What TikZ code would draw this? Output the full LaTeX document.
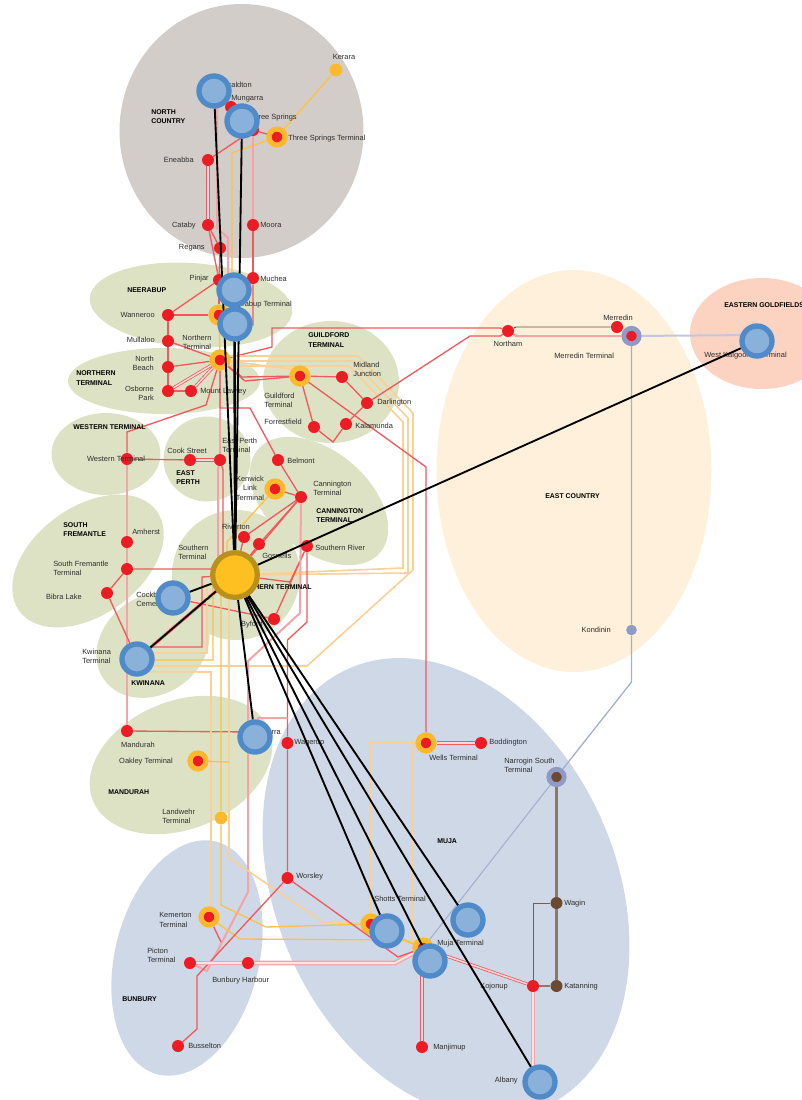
\documentclass[tikz,border=0pt]{standalone}
\usepackage{fontspec}
\setmainfont{Liberation Sans}
\usetikzlibrary{shapes.geometric}
\definecolor{countrygrey}{HTML}{D3CDC9}
\definecolor{metrogreen}{HTML}{DEE2C4}
\definecolor{southblue}{HTML}{CFD8E6}
\definecolor{eastcream}{HTML}{FEF0DA}
\definecolor{goldpeach}{HTML}{FCD3C1}
\definecolor{stopred}{HTML}{ED1C24}
\definecolor{linered}{HTML}{EE5A5F}
\definecolor{linepink}{HTML}{F4A3A6}
\definecolor{ringyellow}{HTML}{FDB92B}
\definecolor{lineyellow}{HTML}{FBC24A}
\definecolor{linepale}{HTML}{F9D096}
\definecolor{linelav}{HTML}{A7AFD0}
\definecolor{ringlav}{HTML}{8F9AC6}
\definecolor{stopbrown}{HTML}{6C4A32}
\definecolor{bluering}{HTML}{4F8AC9}
\definecolor{bluefill}{HTML}{8AB1DA}
\definecolor{hubring}{HTML}{B8901A}
\definecolor{hubfill}{HTML}{FDC020}
\definecolor{tagtext}{HTML}{2E2E2E}
\pgfdeclarelayer{back}
\pgfdeclarelayer{spokes}
\pgfdeclarelayer{top}
\pgfsetlayers{back,main,spokes,top}
\tikzset{
	region/.style n args={3}{ellipse, inner sep=0pt, minimum width=#1*0.75pt, minimum height=#2*0.75pt, rotate=#3},
	redstop/.style={circle, fill=stopred, inner sep=0pt, minimum size=9pt},
	yellowstop/.style={circle, fill=ringyellow, inner sep=0pt, minimum size=9.5pt},
	lavstop/.style={circle, fill=ringlav, inner sep=0pt, minimum size=8pt},
	brownstop/.style={circle, fill=stopbrown, inner sep=0pt, minimum size=9pt},
	termstop/.style={circle, fill=stopred, draw=ringyellow, line width=3.9pt, inner sep=0pt, minimum size=12pt},
	lavterm/.style={circle, fill=#1, draw=ringlav, line width=3.6pt, inner sep=0pt, minimum size=11.5pt},
	bluestop/.style={circle, fill=bluefill, draw=bluering, line width=4pt, inner sep=0pt, minimum size=22.5pt},
	hubstop/.style={circle, fill=hubfill, draw=hubring, line width=3.9pt, inner sep=0pt, minimum size=33.5pt},
	tag/.style={font=\fontsize{5.6}{7}\selectfont, text=tagtext, inner sep=0pt},
	tagl/.style={tag, anchor=west, align=left},
	tagr/.style={tag, anchor=east, align=right},
	tagc/.style={tag, anchor=center, align=center},
	title/.style={font=\fontsize{5.2}{7}\selectfont\bfseries, text=black, inner sep=0pt, anchor=west, align=left},
	redline/.style={draw=linered, line width=1pt},
	pinkline/.style={draw=linepink, line width=1.5pt},
	dblred/.style={draw=linered, line width=0.6pt, double=linepink!40, double distance=1.1pt},
	dblpink/.style={draw=linepink, line width=1pt, double=linepink!30, double distance=1.5pt},
	yelline/.style={draw=lineyellow, line width=1pt},
	paleline/.style={draw=linepale, line width=1.2pt},
	lavline/.style={draw=linelav, line width=1pt},
	brownline/.style={draw=stopbrown!75, line width=1.7pt},
	spoke/.style={draw=black, line width=1.4pt},
}
\begin{document}
\begin{tikzpicture}[x=0.75pt,y=-0.75pt]
	\useasboundingbox (0,0) rectangle (802,1100);
	% regions
	\begin{pgfonlayer}{back}
		\node[region={244}{254}{0}, fill=countrygrey] (northcountry) at (241.5,131) {};
		\node[region={203}{84}{-4}, fill=metrogreen] (neerabupzone) at (191,305) {};
		\node[region={192}{66}{0}, fill=metrogreen] (northernzone) at (164,381) {};
		\node[region={136}{122}{0}, fill=metrogreen] (guildfordzone) at (331,382) {};
		\node[region={109}{82}{0}, fill=metrogreen] (westernzone) at (106,454) {};
		\node[region={87}{85}{0}, fill=metrogreen] (eastperthzone) at (207,459) {};
		\node[region={160}{100}{-40}, fill=metrogreen] (canningtonzone) at (319,501) {};
		\node[region={170}{108}{36}, fill=metrogreen] (fremantlezone) at (88,561) {};
		\node[region={128}{130}{0}, fill=metrogreen] (southernzone) at (236,575) {};
		\node[region={120}{98}{35}, fill=metrogreen] (kwinanazone) at (153,645) {};
		\node[region={190}{128}{22}, fill=metrogreen] (mandurahzone) at (181,765) {};
		\node[region={144}{240}{-14}, fill=southblue] (bunburyzone) at (187,958) {};
		\node[region={340}{480}{24}, fill=southblue] (mujazone) at (446,888) {};
		\node[region={275}{402}{0}, fill=eastcream] (eastzone) at (574,471) {};
		\node[region={144}{111}{0}, fill=goldpeach] (goldzone) at (762,333.5) {};
	\end{pgfonlayer}
	% stops
	\node[yellowstop] (kerara) at (336,70) {};
	\node[redstop] (mungarra) at (231,107) {};
	\node[redstop] (threesprings) at (253,130) {};
	\node[termstop] (threespringsT) at (277,137) {};
	\node[redstop] (eneabba) at (208,160) {};
	\node[redstop] (cataby) at (208,225) {};
	\node[redstop] (moora) at (253,225) {};
	\node[redstop] (regans) at (220,248) {};
	\node[redstop] (pinjar) at (219,280) {};
	\node[redstop] (muchea) at (253,278) {};
	\node[redstop] (wanneroo) at (168,315) {};
	\node[termstop] (neerabupT) at (219,315) {};
	\node[redstop] (mullaloo) at (168,341) {};
	\node[redstop] (northbeach) at (168,367) {};
	\node[redstop] (osborne) at (168,391) {};
	\node[redstop] (lawley) at (191,391) {};
	\node[termstop] (northernT) at (220,360) {};
	\node[termstop] (guildfordT) at (300,376) {};
	\node[redstop] (midland) at (342,377) {};
	\node[redstop] (darlington) at (367,403) {};
	\node[redstop] (forrestfield) at (314,427) {};
	\node[redstop] (kalamunda) at (346,424) {};
	\node[redstop] (westernT) at (127,459) {};
	\node[redstop] (cookstreet) at (190,460) {};
	\node[redstop] (eastperthT) at (220,460) {};
	\node[redstop] (belmont) at (278,460) {};
	\node[termstop] (kenwickT) at (275,489) {};
	\node[redstop] (canningtonT) at (301,497) {};
	\node[redstop] (riverton) at (244,537) {};
	\node[redstop] (gosnells) at (259,544) {};
	\node[redstop] (southernriver) at (307,546) {};
	\node[redstop] (byford) at (274,619) {};
	\node[redstop] (amherst) at (127,542) {};
	\node[redstop] (fremantleT) at (127,569) {};
	\node[redstop] (bibra) at (107,593) {};
	\node[redstop] (mandurah) at (127,731) {};
	\node[termstop] (oakleyT) at (198,761) {};
	\node[yellowstop] (landwehrT) at (221,818) {};
	\node[redstop] (wagerup) at (287.5,743) {};
	\node[redstop] (worsley) at (287.5,878) {};
	\node[termstop] (wellsT) at (426,743) {};
	\node[redstop] (boddington) at (481,743) {};
	\node[lavterm=stopbrown] (narroginT) at (556.5,777) {};
	\node[brownstop] (wagin) at (556.5,903) {};
	\node[redstop] (kojonup) at (533,986) {};
	\node[brownstop] (katanning) at (556.5,986) {};
	\node[redstop] (manjimup) at (422,1047) {};
	\node[termstop] (mujaT) at (423,948) {};
	\node[termstop] (shottsT) at (371,924) {};
	\node[termstop] (kemertonT) at (209,917) {};
	\node[redstop] (pictonT) at (190,963) {};
	\node[redstop] (harbour) at (248,963) {};
	\node[redstop] (busselton) at (178,1046) {};
	\node[redstop] (northam) at (508,331) {};
	\node[redstop] (merredin) at (617,327) {};
	\node[lavterm=stopred] (merredinT) at (631.5,336) {};
	\node[lavstop] (kondinin) at (631.5,630) {};
	% big stops
	\begin{pgfonlayer}{top}
		\node[bluestop] (geraldtonB) at (214,91) {};
		\node[bluestop] (threespringsB) at (242,121) {};
		\node[bluestop] (neerabupB) at (234,290) {};
		\node[bluestop] (northernB) at (235,324) {};
		\node[bluestop] (cockburnB) at (173,598) {};
		\node[bluestop] (kwinanaB) at (137,659) {};
		\node[bluestop] (pinjarraB) at (255,737) {};
		\node[bluestop] (shottsB) at (387,931) {};
		\node[bluestop] (mujaB) at (430,961) {};
		\node[bluestop] (mujaE) at (468,920) {};
		\node[bluestop] (albanyB) at (540,1082) {};
		\node[bluestop] (kalgoorlieB) at (757,341) {};
		\node[hubstop] (southernT) at (235,575) {};
	\end{pgfonlayer}
	% lines in the north
	\begin{pgfonlayer}{back}
		\draw[yelline] (kerara) -- (threespringsT);
		\draw[yelline] (threespringsT) -- (232,153) -- (232,300) -- (neerabupT);
		\draw[redline] (threesprings) -- (threespringsT);
		\draw[redline] (threesprings) -- (eneabba);
		\draw[redline] (geraldtonB) -- (mungarra);
		\draw[redline] (mungarra) -- (threesprings);
		\draw[pinkline] (threesprings) -- (moora);
		\draw[redline] (moora) -- (muchea);
		\draw[redline] (muchea) -- (253,325) -- (northernB);
		\draw[dblred] (eneabba) -- (cataby);
		\draw[redline] (cataby) -- (regans);
		\draw[redline] (cataby) -- (pinjar);
		\draw[redline] (regans) -- (pinjar);
		\draw[pinkline] ([xshift=2.25pt]geraldtonB.center) -- (217,228) -- (228,238) -- (228,280) -- (neerabupB);
		\draw[redline] (pinjar) -- (wanneroo);
		\draw[redline] (pinjar) -- (neerabupT);
		\draw[redline] (wanneroo) -- (neerabupT);
		\draw[redline] (wanneroo) -- (mullaloo) -- (northbeach) -- (osborne) -- (lawley);
		\draw[redline] (mullaloo) -- (northernT);
		\draw[redline] (northbeach) -- (northernT);
		\draw[dblred] (osborne) -- (northernT);
		\draw[dblred] (lawley) -- (northernT);
		\draw[yelline] (neerabupT) -- (northernT);
		% lines east of the northern terminal
		\draw[redline] (northernT) -- (272,347) -- (272,328) -- (500,328) -- (northam);
		\draw[paleline] (northernT) -- (220,356) -- (358,356) -- (413,413) -- (413,570) -- (307,666) -- ([yshift=-5.2pt]kwinanaB.center);
		\draw[paleline] (northernT) -- (220,361) -- (353,361) -- (408,418) -- (408,573) -- (southernT);
		\draw[paleline] (northernT) -- (220,366) -- (349,366) -- (403,422) -- (403,568) -- (southernT);
		\draw[paleline] (northernT) -- (290,369) -- (guildfordT);
		\draw[redline] (northernT) -- (242,377) -- (guildfordT);
		\draw[redline] (northernT) -- (245,381) -- (guildfordT);
		\draw[redline] (guildfordT) -- (midland) -- (darlington);
		\draw[redline] (darlington) -- (470,336) -- (500,336) -- (northam);
		\draw[redline] (guildfordT) -- (forrestfield) -- (333,442) -- (kalamunda) -- (darlington);
		\draw[redline] (guildfordT) -- (426,467) -- (wellsT);
		\draw[draw=stopbrown, line width=0.7pt] (northam) -- (516,327) -- (merredin);
		\draw[pinkline] (northam) -- (516,336) -- (merredinT);
		% lines of the metro area
		\draw[redline] (northernT) -- (206,405) -- (127,432) -- (westernT);
		\draw[pinkline] (northernT) -- (eastperthT);
		\draw[redline] (westernT) -- (cookstreet);
		\draw[dblred] (cookstreet) -- (eastperthT);
		\draw[pinkline] (eastperthT) -- (218,470) -- (218,560) -- (southernT);
		\draw[redline] (eastperthT) -- (223,470) -- (223,560) -- (southernT);
		\draw[redline] (northernT) -- (220,408) -- (250,408) -- (belmont) -- (canningtonT);
		\draw[redline] (canningtonT) -- (kenwickT);
		\draw[redline] (canningtonT) -- (riverton) -- (southernT);
		\draw[redline] (canningtonT) -- (gosnells) -- (southernT);
		\draw[redline] (canningtonT) -- (southernT);
		\draw[yelline] (kenwickT) -- (227,542) -- (227,560);
		\draw[pinkline] (westernT) -- (amherst) -- (fremantleT) -- (mandurah);
		\draw[redline] (fremantleT) -- (215,569) -- (southernT);
		\draw[redline] (fremantleT) -- (bibra) -- (kwinanaB);
		\draw[redline] (mandurah) -- ([yshift=3.75pt]pinjarraB.center);
		\draw[dblred] (kwinanaB) -- (southernT);
		\draw[redline] (cockburnB) -- (byford);
		\draw[redline] (southernT) -- (290,582) -- (southernriver) -- (byford);
		\draw[pinkline] (canningtonT) -- (300,613) -- (248,661) -- (248,892) -- (207,971) -- (pictonT);
		\draw[redline] (southernriver) -- (307,622) -- (287.5,640) -- (wagerup) -- (worsley);
		\draw[pinkline] (pinjarraB) -- (258,718) -- (287.5,718);
		% lines between kwinana and the southern terminal
		\draw[redline] ([yshift=9pt]kwinanaB.center) -- (202,647) -- (202,577) -- (southernT);
		\draw[paleline] ([yshift=4.5pt]kwinanaB.center) -- (207,653) -- (207,585) -- (southernT);
		\draw[yelline] ([yshift=-0.75pt]kwinanaB.center) -- (213,660) -- (213,585) -- (southernT);
		\draw[paleline] ([yshift=-9.5pt]kwinanaB.center) -- (211,672) -- (211,905) -- (kemertonT);
		\draw[yelline] (southernT) -- (221,595) -- (landwehrT) -- (221,905) -- (266,927) -- (shottsT);
		\draw[paleline] (southernT) -- (229,595) -- (229,858) -- (323,922) -- (shottsT);
		\draw[yelline] (oakleyT) -- (229,762);
		\draw[yelline] (kemertonT) -- (240,939) -- (403,940) -- (mujaT);
		\draw[yelline] (shottsT) -- (mujaT);
		\draw[paleline] (wellsT) -- (370,743) -- (370,915) -- (shottsT);
		\draw[paleline] (wellsT) -- (413,743) -- (413,940) -- (mujaT);
		% lines in the south
		\draw[redline] (worsley) -- (197,976) -- (197,1029) -- (busselton);
		\draw[redline] (kemertonT) -- (221,942);
		\draw[dblpink] (pictonT) -- (harbour);
		\draw[dblpink] (harbour) -- (395,963) -- (mujaT);
		\draw[redline] (worsley) -- (398,957) -- (mujaT);
		\draw[dblred] (wellsT) -- (boddington);
		\draw[dblred] ([xshift=-6pt]mujaB.center) -- (manjimup);
		\draw[dblred] (mujaT) -- (kojonup);
		\draw[dblpink] (kojonup) -- ([xshift=-5.25pt]albanyB.center);
		\draw[brownline] (kojonup) -- (katanning) -- (wagin) -- (narroginT);
		\draw[draw=stopbrown!90, line width=0.7pt] (wagin) -- (533,903) -- (kojonup);
		\draw[lavline, line width=0.8pt] (narroginT) -- (mujaT);
		\draw[lavline] (narroginT) -- (631.5,682) -- (kondinin) -- (merredinT);
		\draw[lavline, draw=linelav!70, line width=1.5pt] (merredinT) -- ([yshift=4.5pt]kalgoorlieB.center);
	\end{pgfonlayer}
	% lines out of the southern terminal
	\begin{pgfonlayer}{spokes}
		\foreach \n in {geraldtonB,threespringsB,neerabupB,northernB,cockburnB,kwinanaB,pinjarraB,shottsB,mujaB,mujaE,albanyB,kalgoorlieB}
			\draw[spoke] (southernT) -- (\n);
	\end{pgfonlayer}
	% stop labels
	\node[tagc] (keraralab) at (344,57) {Kerara};
	\node[tagr] (geraldtonlab) at (252,85) {Geraldton};
	\node[tagl] (mungarralab) at (231,99) {Mungarra};
	\node[tagr] (threespringslab) at (297,118) {Three Springs};
	\node[tagl] (threespringsTlab) at (288,139) {Three Springs Terminal};
	\node[tagr] (eneabbalab) at (194,160) {Eneabba};
	\node[tagr] (catabylab) at (196,226) {Cataby};
	\node[tagl] (mooralab) at (260,225) {Moora};
	\node[tagr] (regansla) at (205,248) {Regans};
	\node[tagr] (pinjarlab) at (209,279) {Pinjar};
	\node[tagl] (muchealab) at (260,279) {Muchea};
	\node[tagr] (neerabupTlab) at (292,305) {Neerabup Terminal};
	\node[tagr] (wanneroolab) at (155,315) {Wanneroo};
	\node[tagr] (mullaloolab) at (155,340) {Mullaloo};
	\node[tagr] (northbeachlab) at (154,363) {North\\Beach};
	\node[tagr] (osbornelab) at (154,393) {Osborne\\Park};
	\node[tagl] (lawleylab) at (200,392) {Mount Lawley};
	\node[tagc] (northernTlab) at (197,342) {Northern\\Terminal};
	\node[tagl] (guildfordTlab) at (264,400) {Guildford\\Terminal};
	\node[tagl] (midlandlab) at (353,369) {Midland\\Junction};
	\node[tagl] (darlingtonlab) at (377,403) {Darlington};
	\node[tagr] (forrestfieldlab) at (302,422) {Forrestfield};
	\node[tagl] (kalamundalab) at (355,426) {Kalamunda};
	\node[tagc] (westernTlab) at (116,459) {Western Terminal};
	\node[tagc] (cookstreetlab) at (187,451) {Cook Street};
	\node[tagl] (eastperthTlab) at (222,445) {East Perth\\Terminal};
	\node[tagl] (belmontlab) at (287,461) {Belmont};
	\node[tagc] (kenwickTlab) at (250,488) {Kenwick\\Link\\Terminal};
	\node[tagl] (canningtonTlab) at (313,488) {Cannington\\Terminal};
	\node[tagc] (rivertonlab) at (236,527) {Riverton};
	\node[tagl] (gosnellslab) at (262,556) {Gosnells};
	\node[tagl] (southernriverlab) at (315,548) {Southern River};
	\node[tagl] (southernTlab) at (178,552) {Southern\\Terminal};
	\node[tagr] (byfordlab) at (263,625) {Byford};
	\node[tagl] (cockburnlab) at (136,599) {Cockburn\\Cement};
	\node[tagl] (amherstlab) at (132,532) {Amherst};
	\node[tagl] (fremantleTlab) at (53,568) {South Fremantle\\Terminal};
	\node[tagr] (bibralab) at (82,597) {Bibra Lake};
	\node[tagl] (kwinanalab) at (82,656) {Kwinana\\Terminal};
	\node[tagc] (mandurahlab) at (138,745) {Mandurah};
	\node[tagr] (oakleyTlab) at (173,762) {Oakley Terminal};
	\node[tagl] (landwehrTlab) at (162,816) {Landwehr\\Terminal};
	\node[tagr] (pinjarralab) at (281,733) {Pinjarra};
	\node[tagl] (wageruplab) at (294,743) {Wagerup};
	\node[tagl] (worsleylab) at (296,877) {Worsley};
	\node[tagl] (wellsTlab) at (429,758) {Wells Terminal};
	\node[tagl] (boddingtonlab) at (489,743) {Boddington};
	\node[tagl] (narroginTlab) at (504,765) {Narrogin South\\Terminal};
	\node[tagl] (waginlab) at (564,904) {Wagin};
	\node[tagr] (kojonuplab) at (508,987) {Kojonup};
	\node[tagl] (katanninglab) at (564,987) {Katanning};
	\node[tagr] (albanylab) at (518,1081) {Albany};
	\node[tagl] (manjimuplab) at (433,1048) {Manjimup};
	\node[tagl] (mujaTlab) at (437,944) {Muja Terminal};
	\node[tagl] (shottsTlab) at (374,899) {Shotts Terminal};
	\node[tagl] (kemertonTlab) at (159,920) {Kemerton\\Terminal};
	\node[tagl] (pictonTlab) at (147,955) {Picton\\Terminal};
	\node[tagl] (harbourlab) at (212,981) {Bunbury Harbour};
	\node[tagl] (busseltonlab) at (188,1046) {Busselton};
	\node[tagc] (northamlab) at (508,344) {Northam};
	\node[tagc] (merredinlab) at (618,318) {Merredin};
	\node[tagl] (merredinTlab) at (554,356) {Merredin Terminal};
	\node[tagl] (kalgoorlielab) at (704,356) {West Kalgoorlie Terminal};
	\node[tagr] (kondininlab) at (611,630) {Kondinin};
	% region labels
	\node[title] (northcountrylab) at (151,116.5) {NORTH\\COUNTRY};
	\node[title] (neerabuplab) at (127,290) {NEERABUP};
	\node[title] (northernlab) at (76,378) {NORTHERN\\TERMINAL};
	\node[title] (guildfordlab) at (308,340) {GUILDFORD\\TERMINAL};
	\node[title] (westernlab) at (73,427) {WESTERN TERMINAL};
	\node[title] (eastperthlab) at (176,477.5) {EAST\\PERTH};
	\node[title] (fremantlelab) at (63,529.5) {SOUTH\\FREMANTLE};
	\node[title] (canningtonlab) at (316,515.5) {CANNINGTON\\TERMINAL};
	\node[title, anchor=east] (southernlab) at (312,587) {SOUTHERN TERMINAL};
	\node[title] (kwinanazlab) at (131,683) {KWINANA};
	\node[title] (mandurahzlab) at (108,792) {MANDURAH};
	\node[title] (bunburylab) at (122,999) {BUNBURY};
	\node[title] (mujalab) at (437,841) {MUJA};
	\node[title] (eastlab) at (545,496) {EAST COUNTRY};
	\node[title] (goldlab) at (724,305) {EASTERN GOLDFIELDS};
\end{tikzpicture}
\end{document}
